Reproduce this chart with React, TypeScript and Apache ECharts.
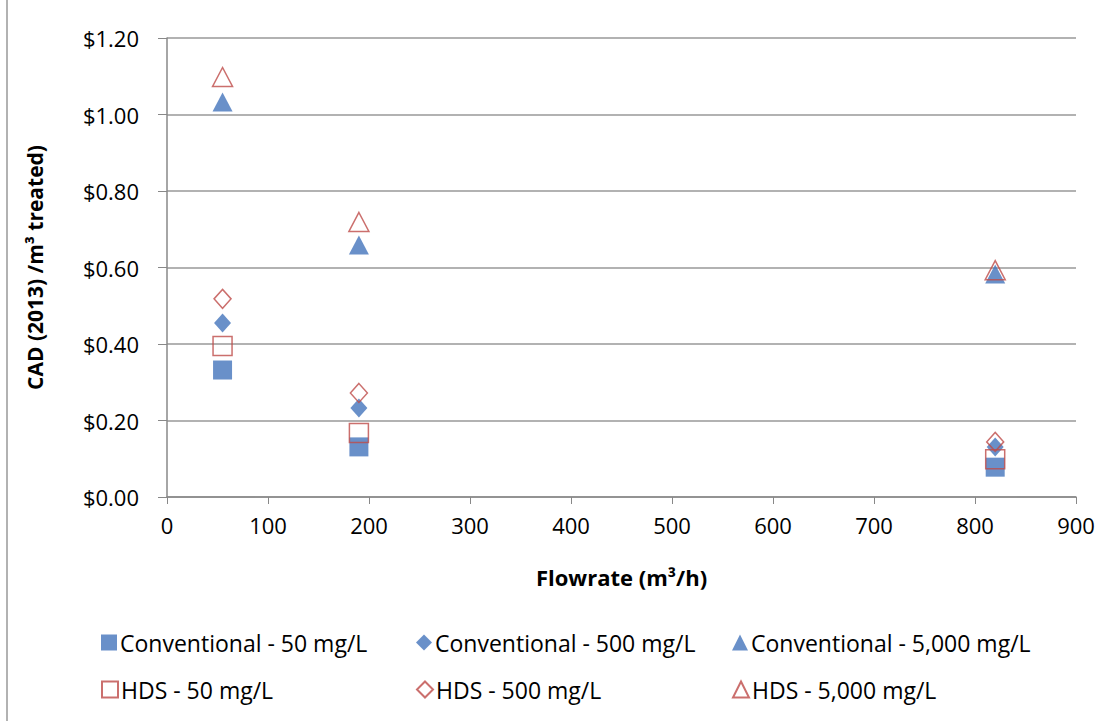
import React, { useEffect, useRef } from "react";
import * as echarts from "echarts";

const flowrates = [55, 190, 820];
const conv50 = [0.332, 0.131, 0.078];
const conv500 = [0.455, 0.233, 0.131];
const conv5000 = [1.033, 0.659, 0.583];
const hds50 = [0.395, 0.167, 0.099];
const hds500 = [0.518, 0.272, 0.144];
const hds5000 = [1.098, 0.719, 0.593];

const seriesNames = [
  "Conventional - 50 mg/L",
  "Conventional - 500 mg/L",
  "Conventional - 5,000 mg/L",
  "HDS - 50 mg/L",
  "HDS - 500 mg/L",
  "HDS - 5,000 mg/L",
];

const BLUE = "#4474BC";
const RED = "#BE4B48";
const FONT = "Open Sans";

export default function App() {
  const ref = useRef<HTMLDivElement>(null);
  useEffect(() => {
    const chart = echarts.init(ref.current!, undefined, { renderer: "svg" });
    const values = [conv50, conv500, conv5000, hds50, hds500, hds5000];
    const symbols = ["rect", "diamond", "triangle", "rect", "diamond", "triangle"];
    const sizes: any[] = [19, [17, 19], [20, 19], 19, [17, 19], [20, 19]];
    const series = values.map((vals, i) => {
      const hollow = i >= 3;
      return {
        name: seriesNames[i],
        type: "scatter",
        symbol: symbols[i],
        symbolSize: sizes[i],
        data: vals.map((v, j) => [flowrates[j], v]),
        itemStyle: hollow
          ? { color: "rgba(255,255,255,0)", borderColor: RED, borderWidth: 1.5 }
          : { color: BLUE, borderColor: BLUE, borderWidth: 0 },
        z: 2 + i,
      };
    });
    const legendPos = [
      [101, 631],
      [416, 631],
      [732, 631],
      [101, 678],
      [416, 678],
      [732, 678],
    ];
    const legends = seriesNames.map((n, i) => ({
      data: [n],
      left: legendPos[i][0],
      top: legendPos[i][1],
      itemWidth: 16,
      itemHeight: 16,
      itemGap: 6,
      padding: 0,
      selectedMode: false,
      textStyle: { fontFamily: FONT, fontSize: 23, color: "#000", padding: [0, 0, 0, -2] },
    }));
    chart.setOption({
      animation: false,
      backgroundColor: "#ffffff",
      grid: { left: 167, right: 36, top: 38, bottom: 224, containLabel: false },
      legend: legends,
      xAxis: {
        type: "value",
        min: 0,
        max: 900,
        interval: 100,
        name: "Flowrate (m³/h)",
        nameLocation: "middle",
        nameGap: 69,
        nameTextStyle: { fontFamily: FONT, fontSize: 22, fontWeight: "bold", color: "#000" },
        axisLine: { show: true, lineStyle: { color: "#888", width: 1.5 } },
        axisTick: { show: true, length: 7, lineStyle: { color: "#888" } },
        axisLabel: { fontFamily: FONT, fontSize: 22, color: "#000", margin: 17 },
        splitLine: { show: false },
      },
      yAxis: {
        type: "value",
        min: 0,
        max: 1.2,
        interval: 0.2,
        name: "CAD (2013) /m³ treated)",
        nameLocation: "middle",
        nameGap: 122,
        nameTextStyle: { fontFamily: FONT, fontSize: 21, fontWeight: "bold", color: "#000" },
        axisLine: { show: true, lineStyle: { color: "#888", width: 1.5 } },
        axisTick: { show: true, length: 9, lineStyle: { color: "#888" } },
        axisLabel: {
          fontFamily: FONT,
          fontSize: 22,
          color: "#000",
          margin: 28,
          formatter: (v: number) => "$" + v.toFixed(2),
        },
        splitLine: { show: true, lineStyle: { color: "#999", width: 1.5 } },
      },
      graphic: [
        {
          type: "line",
          shape: { x1: 7, y1: 0, x2: 7, y2: 721 },
          style: { stroke: "#999", lineWidth: 1.5 },
        },
      ],
      series,
    });
    return () => chart.dispose();
  }, []);
  return <div ref={ref} style={{ width: 1112, height: 721, position: "absolute", left: 0, top: 0 }} />;
}
